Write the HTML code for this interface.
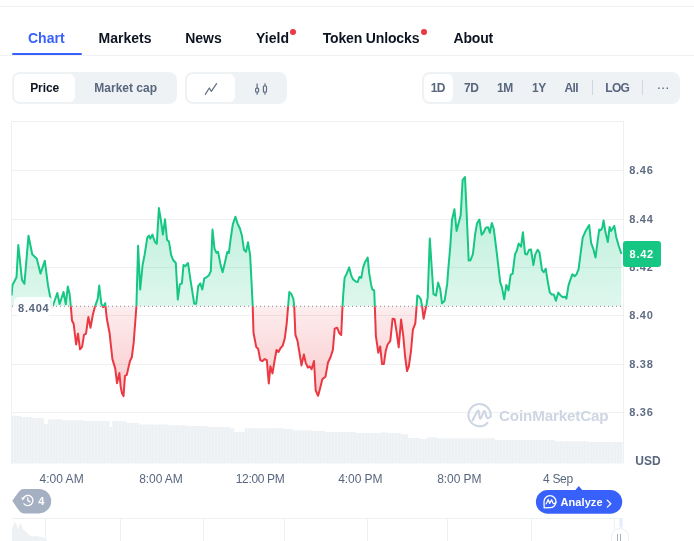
<!DOCTYPE html>
<html><head><meta charset="utf-8"><style>
*{box-sizing:border-box;margin:0;padding:0}
html,body{width:694px;height:541px;overflow:hidden;background:#fff}
body{position:relative;font-family:"Liberation Sans", Arial, sans-serif}
.abs{position:absolute}
.t{position:absolute;white-space:nowrap}
.hl{position:absolute;left:0;width:694px;height:1px;background:#eff2f5}
.box{position:absolute;background:#eff2f5;border-radius:8px}
.wb{position:absolute;background:#fff;border-radius:6px}
.dot{position:absolute;width:6px;height:6px;border-radius:50%;background:#ea3943}
</style></head><body>
<div class="hl" style="top:6px"></div>
<div class="hl" style="top:55px"></div>
<div class="abs" style="left:12px;top:53px;width:70px;height:2px;background:#3861fb;border-radius:1px"></div>
<div class="t" style="left:28px;top:29.65px;font-size:14px;line-height:17px;font-weight:700;color:#3861fb;letter-spacing:0px;">Chart</div>
<div class="t" style="left:98.6px;top:29.65px;font-size:14px;line-height:17px;font-weight:700;color:#0d1421;letter-spacing:0px;">Markets</div>
<div class="t" style="left:185.2px;top:29.65px;font-size:14px;line-height:17px;font-weight:700;color:#0d1421;letter-spacing:0px;">News</div>
<div class="t" style="left:256px;top:29.65px;font-size:14px;line-height:17px;font-weight:700;color:#0d1421;letter-spacing:0px;">Yield</div>
<div class="dot" style="left:290px;top:29px"></div>
<div class="t" style="left:322.7px;top:29.65px;font-size:14px;line-height:17px;font-weight:700;color:#0d1421;letter-spacing:-0.15px;">Token Unlocks</div>
<div class="dot" style="left:421px;top:29px"></div>
<div class="t" style="left:453.6px;top:29.65px;font-size:14px;line-height:17px;font-weight:700;color:#0d1421;letter-spacing:-0.2px;">About</div>

<div class="box" style="left:12px;top:72px;width:165px;height:32px"></div>
<div class="wb" style="left:14px;top:74px;width:61px;height:28px"></div>
<div class="t" style="left:30.2px;top:80.54px;font-size:12px;line-height:14px;font-weight:700;color:#0d1421;letter-spacing:-0.1px;">Price</div>
<div class="t" style="left:94.3px;top:80.54px;font-size:12px;line-height:14px;font-weight:700;color:#58667e;letter-spacing:0px;">Market cap</div>

<div class="box" style="left:185px;top:72px;width:102px;height:32px"></div>
<div class="wb" style="left:187px;top:74px;width:48px;height:28px"></div>
<svg class="abs" style="left:0;top:0" width="694" height="120">
 <path d="M205.3,94.3 L209.3,88 L211.3,91.3 L216.6,83.7" fill="none" stroke="#616e85" stroke-width="1.25" stroke-linecap="round" stroke-linejoin="round"/>
 <g fill="none" stroke="#616e85" stroke-width="1.2">
  <line x1="257.1" y1="83.5" x2="257.1" y2="94.7"/>
  <rect x="255.6" y="88.2" width="3" height="4" rx="1" fill="#eff2f5"/>
  <line x1="265" y1="83.2" x2="265" y2="94.7"/>
  <rect x="263.4" y="85.8" width="3.1" height="6.4" rx="1" fill="#eff2f5"/>
 </g>
</svg>

<div class="box" style="left:422px;top:72px;width:258px;height:32px"></div>
<div class="wb" style="left:424px;top:74px;width:29px;height:28px"></div>
<div class="t" style="left:430.8px;top:80.64px;font-size:12px;line-height:14px;font-weight:700;color:#58667e;letter-spacing:-0.6px;">1D</div>
<div class="t" style="left:464px;top:80.64px;font-size:12px;line-height:14px;font-weight:700;color:#58667e;letter-spacing:-0.3px;">7D</div>
<div class="t" style="left:497px;top:80.64px;font-size:12px;line-height:14px;font-weight:700;color:#58667e;letter-spacing:-0.3px;">1M</div>
<div class="t" style="left:532px;top:80.64px;font-size:12px;line-height:14px;font-weight:700;color:#58667e;letter-spacing:-0.5px;">1Y</div>
<div class="t" style="left:564.5px;top:80.64px;font-size:12px;line-height:14px;font-weight:700;color:#58667e;letter-spacing:-0.6px;">All</div>
<div class="abs" style="left:592px;top:80px;width:1px;height:15px;background:#cfd6e4"></div>
<div class="t" style="left:605.3px;top:80.64px;font-size:12px;line-height:14px;font-weight:700;color:#58667e;letter-spacing:-0.7px;">LOG</div>
<div class="abs" style="left:642px;top:80px;width:1px;height:15px;background:#cfd6e4"></div>
<div class="t" style="left:656.4px;top:78.95px;font-size:14px;line-height:17px;font-weight:400;color:#58667e;letter-spacing:-0.3px;">···</div>


<svg class="abs" width="694" height="541" viewBox="0 0 694 541" style="left:0;top:0">
 <defs>
  <linearGradient id="gg" x1="0" y1="175" x2="0" y2="306.3" gradientUnits="userSpaceOnUse">
   <stop offset="0" stop-color="#16c784" stop-opacity="0.32"/>
   <stop offset="1" stop-color="#16c784" stop-opacity="0.14"/>
  </linearGradient>
  <linearGradient id="rg" x1="0" y1="306.3" x2="0" y2="400" gradientUnits="userSpaceOnUse">
   <stop offset="0" stop-color="#ea3943" stop-opacity="0.09"/>
   <stop offset="1" stop-color="#ea3943" stop-opacity="0.28"/>
  </linearGradient>
  <clipPath id="top"><rect x="11.5" y="0" width="612" height="306.3"/></clipPath>
  <clipPath id="volc"><path d="M11,463.6 L11,415.8 L21,415.8 L21,417 L31.9,417 L31.9,418.1 L44.1,418.1 L44.1,424.1 L48,424.1 L48,419.3 L61.9,419.3 L61.9,420.2 L84.9,420.2 L84.9,421.1 L109.5,421.1 L109.5,426.9 L112.5,426.9 L112.5,421.1 L126.4,421.1 L126.4,423 L139,423 L139,424.4 L168,424.4 L168,425.2 L186.5,425.2 L186.5,426.1 L207.3,426.1 L207.3,427 L230.3,427 L230.3,428.2 L234.2,428.2 L234.2,432.1 L244.8,432.1 L244.8,428.2 L284.4,428.2 L284.4,429.1 L292.5,429.1 L292.5,430.3 L312.5,430.3 L312.5,431.1 L325,431.1 L325,432 L356.1,432 L356.1,433.1 L381.4,433.1 L381.4,432.2 L387.2,432.2 L387.2,433.1 L401,433.1 L401,434.3 L408,434.3 L408,438 L420.1,438 L420.1,439.1 L427,439.1 L427,437.3 L436.7,437.3 L436.7,438.3 L495,438.3 L495,440 L554.9,440 L554.9,441.2 L588.3,441.2 L588.3,442.1 L622.5,442.1 L622.5,463.6 Z"/></clipPath>
  <clipPath id="bot"><rect x="11.5" y="306.3" width="612" height="300"/></clipPath>
 </defs>
 <!-- chart frame -->
 <g stroke="#eff0f2" stroke-width="1" fill="none">
  <line x1="11" y1="121.5" x2="623.5" y2="121.5"/>
  <line x1="11.5" y1="121" x2="11.5" y2="464"/>
  <line x1="623.5" y1="121" x2="623.5" y2="464"/>
  <line x1="11" y1="170.5" x2="623" y2="170.5"/><line x1="11" y1="219.5" x2="623" y2="219.5"/><line x1="11" y1="267.5" x2="623" y2="267.5"/><line x1="11" y1="315.5" x2="623" y2="315.5"/><line x1="11" y1="364.5" x2="623" y2="364.5"/><line x1="11" y1="412.5" x2="623" y2="412.5"/>
 </g>
 <!-- volume -->
 <path d="M11,463.6 L11,415.8 L21,415.8 L21,417 L31.9,417 L31.9,418.1 L44.1,418.1 L44.1,424.1 L48,424.1 L48,419.3 L61.9,419.3 L61.9,420.2 L84.9,420.2 L84.9,421.1 L109.5,421.1 L109.5,426.9 L112.5,426.9 L112.5,421.1 L126.4,421.1 L126.4,423 L139,423 L139,424.4 L168,424.4 L168,425.2 L186.5,425.2 L186.5,426.1 L207.3,426.1 L207.3,427 L230.3,427 L230.3,428.2 L234.2,428.2 L234.2,432.1 L244.8,432.1 L244.8,428.2 L284.4,428.2 L284.4,429.1 L292.5,429.1 L292.5,430.3 L312.5,430.3 L312.5,431.1 L325,431.1 L325,432 L356.1,432 L356.1,433.1 L381.4,433.1 L381.4,432.2 L387.2,432.2 L387.2,433.1 L401,433.1 L401,434.3 L408,434.3 L408,438 L420.1,438 L420.1,439.1 L427,439.1 L427,437.3 L436.7,437.3 L436.7,438.3 L495,438.3 L495,440 L554.9,440 L554.9,441.2 L588.3,441.2 L588.3,442.1 L622.5,442.1 L622.5,463.6 Z" fill="#eef1f4"/>
 <g stroke="#f4f6f8" stroke-width="0.6" clip-path="url(#volc)"><line x1="13.5" y1="414" x2="13.5" y2="464" /><line x1="16.5" y1="414" x2="16.5" y2="464" /><line x1="19.5" y1="414" x2="19.5" y2="464" /><line x1="22.5" y1="414" x2="22.5" y2="464" /><line x1="25.5" y1="414" x2="25.5" y2="464" /><line x1="28.5" y1="414" x2="28.5" y2="464" /><line x1="31.5" y1="414" x2="31.5" y2="464" /><line x1="34.5" y1="414" x2="34.5" y2="464" /><line x1="37.5" y1="414" x2="37.5" y2="464" /><line x1="40.5" y1="414" x2="40.5" y2="464" /><line x1="43.5" y1="414" x2="43.5" y2="464" /><line x1="46.5" y1="414" x2="46.5" y2="464" /><line x1="49.5" y1="414" x2="49.5" y2="464" /><line x1="52.5" y1="414" x2="52.5" y2="464" /><line x1="55.5" y1="414" x2="55.5" y2="464" /><line x1="58.5" y1="414" x2="58.5" y2="464" /><line x1="61.5" y1="414" x2="61.5" y2="464" /><line x1="64.5" y1="414" x2="64.5" y2="464" /><line x1="67.5" y1="414" x2="67.5" y2="464" /><line x1="70.5" y1="414" x2="70.5" y2="464" /><line x1="73.5" y1="414" x2="73.5" y2="464" /><line x1="76.5" y1="414" x2="76.5" y2="464" /><line x1="79.5" y1="414" x2="79.5" y2="464" /><line x1="82.5" y1="414" x2="82.5" y2="464" /><line x1="85.5" y1="414" x2="85.5" y2="464" /><line x1="88.5" y1="414" x2="88.5" y2="464" /><line x1="91.5" y1="414" x2="91.5" y2="464" /><line x1="94.5" y1="414" x2="94.5" y2="464" /><line x1="97.5" y1="414" x2="97.5" y2="464" /><line x1="100.5" y1="414" x2="100.5" y2="464" /><line x1="103.5" y1="414" x2="103.5" y2="464" /><line x1="106.5" y1="414" x2="106.5" y2="464" /><line x1="109.5" y1="414" x2="109.5" y2="464" /><line x1="112.5" y1="414" x2="112.5" y2="464" /><line x1="115.5" y1="414" x2="115.5" y2="464" /><line x1="118.5" y1="414" x2="118.5" y2="464" /><line x1="121.5" y1="414" x2="121.5" y2="464" /><line x1="124.5" y1="414" x2="124.5" y2="464" /><line x1="127.5" y1="414" x2="127.5" y2="464" /><line x1="130.5" y1="414" x2="130.5" y2="464" /><line x1="133.5" y1="414" x2="133.5" y2="464" /><line x1="136.5" y1="414" x2="136.5" y2="464" /><line x1="139.5" y1="414" x2="139.5" y2="464" /><line x1="142.5" y1="414" x2="142.5" y2="464" /><line x1="145.5" y1="414" x2="145.5" y2="464" /><line x1="148.5" y1="414" x2="148.5" y2="464" /><line x1="151.5" y1="414" x2="151.5" y2="464" /><line x1="154.5" y1="414" x2="154.5" y2="464" /><line x1="157.5" y1="414" x2="157.5" y2="464" /><line x1="160.5" y1="414" x2="160.5" y2="464" /><line x1="163.5" y1="414" x2="163.5" y2="464" /><line x1="166.5" y1="414" x2="166.5" y2="464" /><line x1="169.5" y1="414" x2="169.5" y2="464" /><line x1="172.5" y1="414" x2="172.5" y2="464" /><line x1="175.5" y1="414" x2="175.5" y2="464" /><line x1="178.5" y1="414" x2="178.5" y2="464" /><line x1="181.5" y1="414" x2="181.5" y2="464" /><line x1="184.5" y1="414" x2="184.5" y2="464" /><line x1="187.5" y1="414" x2="187.5" y2="464" /><line x1="190.5" y1="414" x2="190.5" y2="464" /><line x1="193.5" y1="414" x2="193.5" y2="464" /><line x1="196.5" y1="414" x2="196.5" y2="464" /><line x1="199.5" y1="414" x2="199.5" y2="464" /><line x1="202.5" y1="414" x2="202.5" y2="464" /><line x1="205.5" y1="414" x2="205.5" y2="464" /><line x1="208.5" y1="414" x2="208.5" y2="464" /><line x1="211.5" y1="414" x2="211.5" y2="464" /><line x1="214.5" y1="414" x2="214.5" y2="464" /><line x1="217.5" y1="414" x2="217.5" y2="464" /><line x1="220.5" y1="414" x2="220.5" y2="464" /><line x1="223.5" y1="414" x2="223.5" y2="464" /><line x1="226.5" y1="414" x2="226.5" y2="464" /><line x1="229.5" y1="414" x2="229.5" y2="464" /><line x1="232.5" y1="414" x2="232.5" y2="464" /><line x1="235.5" y1="414" x2="235.5" y2="464" /><line x1="238.5" y1="414" x2="238.5" y2="464" /><line x1="241.5" y1="414" x2="241.5" y2="464" /><line x1="244.5" y1="414" x2="244.5" y2="464" /><line x1="247.5" y1="414" x2="247.5" y2="464" /><line x1="250.5" y1="414" x2="250.5" y2="464" /><line x1="253.5" y1="414" x2="253.5" y2="464" /><line x1="256.5" y1="414" x2="256.5" y2="464" /><line x1="259.5" y1="414" x2="259.5" y2="464" /><line x1="262.5" y1="414" x2="262.5" y2="464" /><line x1="265.5" y1="414" x2="265.5" y2="464" /><line x1="268.5" y1="414" x2="268.5" y2="464" /><line x1="271.5" y1="414" x2="271.5" y2="464" /><line x1="274.5" y1="414" x2="274.5" y2="464" /><line x1="277.5" y1="414" x2="277.5" y2="464" /><line x1="280.5" y1="414" x2="280.5" y2="464" /><line x1="283.5" y1="414" x2="283.5" y2="464" /><line x1="286.5" y1="414" x2="286.5" y2="464" /><line x1="289.5" y1="414" x2="289.5" y2="464" /><line x1="292.5" y1="414" x2="292.5" y2="464" /><line x1="295.5" y1="414" x2="295.5" y2="464" /><line x1="298.5" y1="414" x2="298.5" y2="464" /><line x1="301.5" y1="414" x2="301.5" y2="464" /><line x1="304.5" y1="414" x2="304.5" y2="464" /><line x1="307.5" y1="414" x2="307.5" y2="464" /><line x1="310.5" y1="414" x2="310.5" y2="464" /><line x1="313.5" y1="414" x2="313.5" y2="464" /><line x1="316.5" y1="414" x2="316.5" y2="464" /><line x1="319.5" y1="414" x2="319.5" y2="464" /><line x1="322.5" y1="414" x2="322.5" y2="464" /><line x1="325.5" y1="414" x2="325.5" y2="464" /><line x1="328.5" y1="414" x2="328.5" y2="464" /><line x1="331.5" y1="414" x2="331.5" y2="464" /><line x1="334.5" y1="414" x2="334.5" y2="464" /><line x1="337.5" y1="414" x2="337.5" y2="464" /><line x1="340.5" y1="414" x2="340.5" y2="464" /><line x1="343.5" y1="414" x2="343.5" y2="464" /><line x1="346.5" y1="414" x2="346.5" y2="464" /><line x1="349.5" y1="414" x2="349.5" y2="464" /><line x1="352.5" y1="414" x2="352.5" y2="464" /><line x1="355.5" y1="414" x2="355.5" y2="464" /><line x1="358.5" y1="414" x2="358.5" y2="464" /><line x1="361.5" y1="414" x2="361.5" y2="464" /><line x1="364.5" y1="414" x2="364.5" y2="464" /><line x1="367.5" y1="414" x2="367.5" y2="464" /><line x1="370.5" y1="414" x2="370.5" y2="464" /><line x1="373.5" y1="414" x2="373.5" y2="464" /><line x1="376.5" y1="414" x2="376.5" y2="464" /><line x1="379.5" y1="414" x2="379.5" y2="464" /><line x1="382.5" y1="414" x2="382.5" y2="464" /><line x1="385.5" y1="414" x2="385.5" y2="464" /><line x1="388.5" y1="414" x2="388.5" y2="464" /><line x1="391.5" y1="414" x2="391.5" y2="464" /><line x1="394.5" y1="414" x2="394.5" y2="464" /><line x1="397.5" y1="414" x2="397.5" y2="464" /><line x1="400.5" y1="414" x2="400.5" y2="464" /><line x1="403.5" y1="414" x2="403.5" y2="464" /><line x1="406.5" y1="414" x2="406.5" y2="464" /><line x1="409.5" y1="414" x2="409.5" y2="464" /><line x1="412.5" y1="414" x2="412.5" y2="464" /><line x1="415.5" y1="414" x2="415.5" y2="464" /><line x1="418.5" y1="414" x2="418.5" y2="464" /><line x1="421.5" y1="414" x2="421.5" y2="464" /><line x1="424.5" y1="414" x2="424.5" y2="464" /><line x1="427.5" y1="414" x2="427.5" y2="464" /><line x1="430.5" y1="414" x2="430.5" y2="464" /><line x1="433.5" y1="414" x2="433.5" y2="464" /><line x1="436.5" y1="414" x2="436.5" y2="464" /><line x1="439.5" y1="414" x2="439.5" y2="464" /><line x1="442.5" y1="414" x2="442.5" y2="464" /><line x1="445.5" y1="414" x2="445.5" y2="464" /><line x1="448.5" y1="414" x2="448.5" y2="464" /><line x1="451.5" y1="414" x2="451.5" y2="464" /><line x1="454.5" y1="414" x2="454.5" y2="464" /><line x1="457.5" y1="414" x2="457.5" y2="464" /><line x1="460.5" y1="414" x2="460.5" y2="464" /><line x1="463.5" y1="414" x2="463.5" y2="464" /><line x1="466.5" y1="414" x2="466.5" y2="464" /><line x1="469.5" y1="414" x2="469.5" y2="464" /><line x1="472.5" y1="414" x2="472.5" y2="464" /><line x1="475.5" y1="414" x2="475.5" y2="464" /><line x1="478.5" y1="414" x2="478.5" y2="464" /><line x1="481.5" y1="414" x2="481.5" y2="464" /><line x1="484.5" y1="414" x2="484.5" y2="464" /><line x1="487.5" y1="414" x2="487.5" y2="464" /><line x1="490.5" y1="414" x2="490.5" y2="464" /><line x1="493.5" y1="414" x2="493.5" y2="464" /><line x1="496.5" y1="414" x2="496.5" y2="464" /><line x1="499.5" y1="414" x2="499.5" y2="464" /><line x1="502.5" y1="414" x2="502.5" y2="464" /><line x1="505.5" y1="414" x2="505.5" y2="464" /><line x1="508.5" y1="414" x2="508.5" y2="464" /><line x1="511.5" y1="414" x2="511.5" y2="464" /><line x1="514.5" y1="414" x2="514.5" y2="464" /><line x1="517.5" y1="414" x2="517.5" y2="464" /><line x1="520.5" y1="414" x2="520.5" y2="464" /><line x1="523.5" y1="414" x2="523.5" y2="464" /><line x1="526.5" y1="414" x2="526.5" y2="464" /><line x1="529.5" y1="414" x2="529.5" y2="464" /><line x1="532.5" y1="414" x2="532.5" y2="464" /><line x1="535.5" y1="414" x2="535.5" y2="464" /><line x1="538.5" y1="414" x2="538.5" y2="464" /><line x1="541.5" y1="414" x2="541.5" y2="464" /><line x1="544.5" y1="414" x2="544.5" y2="464" /><line x1="547.5" y1="414" x2="547.5" y2="464" /><line x1="550.5" y1="414" x2="550.5" y2="464" /><line x1="553.5" y1="414" x2="553.5" y2="464" /><line x1="556.5" y1="414" x2="556.5" y2="464" /><line x1="559.5" y1="414" x2="559.5" y2="464" /><line x1="562.5" y1="414" x2="562.5" y2="464" /><line x1="565.5" y1="414" x2="565.5" y2="464" /><line x1="568.5" y1="414" x2="568.5" y2="464" /><line x1="571.5" y1="414" x2="571.5" y2="464" /><line x1="574.5" y1="414" x2="574.5" y2="464" /><line x1="577.5" y1="414" x2="577.5" y2="464" /><line x1="580.5" y1="414" x2="580.5" y2="464" /><line x1="583.5" y1="414" x2="583.5" y2="464" /><line x1="586.5" y1="414" x2="586.5" y2="464" /><line x1="589.5" y1="414" x2="589.5" y2="464" /><line x1="592.5" y1="414" x2="592.5" y2="464" /><line x1="595.5" y1="414" x2="595.5" y2="464" /><line x1="598.5" y1="414" x2="598.5" y2="464" /><line x1="601.5" y1="414" x2="601.5" y2="464" /><line x1="604.5" y1="414" x2="604.5" y2="464" /><line x1="607.5" y1="414" x2="607.5" y2="464" /><line x1="610.5" y1="414" x2="610.5" y2="464" /><line x1="613.5" y1="414" x2="613.5" y2="464" /><line x1="616.5" y1="414" x2="616.5" y2="464" /><line x1="619.5" y1="414" x2="619.5" y2="464" /></g>
 <!-- watermark -->
 <g fill="none" stroke="#cfd6e3" stroke-width="2.1" stroke-linecap="round" stroke-linejoin="round">
  <path d="M487.5,422.9 A11.1,11.1 0 1 1 490.6,416.4"/>
  <path d="M472.6,420.3 L477.3,411.2 Q478.3,409.6 478.9,411.6 L479.6,417.6 Q480.2,419.6 481.2,417.6 L483.6,411.8 Q484.4,410.4 485.1,412 L486.6,417.2 Q487.6,419.6 490.6,416.4"/>
 </g>
 <text x="499" y="420.5" font-family='"Liberation Sans", Arial, sans-serif' font-weight="700" font-size="15.2" fill="#cfd6e3" letter-spacing="-0.15">CoinMarketCap</text>
 <!-- fills -->
 <path d="M11.6,295.5 L12.4,285.2 L16.5,277.3 L18.3,245.0 L22.0,280.0 L24.4,283.8 L28.5,235.7 L32.2,254.2 L36.8,258.8 L40.5,273.6 L44.8,260.7 L47.9,284.7 L50.5,298.5 L51.6,307.5 L53.2,305.0 L57.3,293.0 L59.6,304.0 L63.5,292.0 L65.8,304.3 L67.8,286.5 L69.6,294.0 L70.8,306.0 L72.0,320.5 L73.7,324.0 L76.1,344.5 L78.0,333.7 L80.0,349.3 L82.1,346.9 L84.0,334.9 L86.0,333.7 L88.4,316.9 L90.5,327.7 L92.9,314.5 L94.8,307.2 L97.7,298.8 L99.2,285.6 L101.3,303.6 L103.2,307.2 L105.2,303.2 L106.8,318.5 L109.6,333.3 L112.4,359.1 L115.2,368.4 L117.0,383.2 L119.4,373.0 L120.7,386.9 L122.0,393.3 L123.5,396.1 L125.0,375.8 L126.8,374.9 L128.7,366.5 L130.0,361.0 L131.8,357.3 L133.7,342.5 L135.5,318.5 L136.4,306.5 L138.1,245.8 L140.2,289.5 L142.6,265.0 L144.6,254.9 L147.3,237.6 L148.9,235.6 L150.3,238.6 L152.4,234.6 L154.8,241.7 L156.8,243.7 L158.9,208.1 L160.9,220.3 L162.9,234.6 L165.0,219.3 L167.0,239.7 L169.0,241.7 L171.1,254.9 L173.1,260.0 L175.8,263.0 L177.8,299.6 L179.8,284.4 L181.9,283.4 L183.5,265.0 L185.3,266.1 L188.0,263.0 L190.7,281.3 L194.2,303.7 L196.2,303.7 L198.2,286.4 L200.3,283.4 L202.3,289.5 L204.3,278.3 L206.4,277.3 L209.0,275.2 L210.8,271.2 L212.5,229.5 L214.5,248.8 L216.5,252.9 L218.1,251.9 L220.6,265.1 L222.6,272.2 L225.3,261.0 L227.3,251.9 L228.9,252.9 L230.7,238.6 L232.8,224.4 L235.4,216.7 L237.5,223.4 L239.9,228.5 L241.9,235.6 L244.0,249.8 L246.0,251.9 L248.0,242.3 L250.1,254.9 L251.5,281.3 L252.7,305.7 L253.5,332.7 L256.2,346.9 L258.2,349.0 L260.3,360.1 L262.3,361.2 L264.7,359.1 L266.8,360.1 L268.8,383.5 L270.4,366.3 L272.5,373.4 L274.5,361.2 L276.5,350.0 L278.5,352.0 L280.6,348.0 L282.6,345.9 L284.7,338.8 L286.7,323.5 L288.1,306.3 L289.3,292.0 L291.4,294.1 L293.4,299.1 L294.2,306.3 L295.4,334.7 L297.5,340.8 L299.5,353.0 L301.5,365.4 L303.9,354.5 L305.7,362.8 L307.9,367.5 L309.8,366.5 L311.6,369.3 L314.0,361.0 L315.7,390.6 L318.1,395.7 L320.0,388.7 L322.4,379.1 L325.5,376.7 L327.9,362.8 L330.5,357.3 L332.9,349.9 L334.7,328.7 L337.1,327.7 L339.4,333.3 L341.2,335.1 L342.5,306.5 L343.3,293.6 L344.6,277.9 L346.5,274.2 L349.2,267.4 L351.1,275.1 L352.9,279.2 L355.7,281.6 L357.6,282.1 L359.4,277.0 L361.3,277.9 L363.1,267.7 L365.0,262.2 L367.7,257.6 L369.2,273.3 L371.1,284.4 L372.3,289.5 L374.2,290.3 L374.8,305.6 L375.9,336.2 L377.0,343.6 L378.3,352.8 L380.2,346.4 L382.0,363.9 L383.9,363.9 L385.7,351.0 L387.6,344.5 L390.3,340.8 L392.6,318.7 L394.6,319.2 L396.8,333.4 L398.7,347.3 L401.1,319.6 L403.3,336.2 L405.1,356.5 L407.0,371.0 L408.8,366.7 L411.0,351.0 L412.9,329.7 L415.3,323.3 L416.6,306.3 L417.3,295.5 L419.0,296.5 L420.8,299.2 L422.1,306.3 L423.6,318.7 L425.1,311.3 L426.2,306.3 L427.7,297.4 L429.8,238.6 L431.6,265.8 L433.5,294.2 L436.0,295.5 L438.1,282.6 L440.2,289.0 L442.0,303.3 L444.6,300.7 L447.2,283.9 L448.3,268.9 L450.2,247.6 L452.0,219.9 L454.4,209.2 L456.6,231.0 L458.5,223.6 L460.7,215.3 L462.6,180.2 L465.0,177.0 L466.8,216.2 L468.7,260.6 L470.5,260.2 L472.9,254.1 L475.1,234.7 L477.0,223.6 L479.4,219.5 L481.6,234.7 L483.4,232.8 L485.8,227.7 L488.1,227.3 L489.9,232.8 L491.8,222.9 L493.7,228.5 L496.5,250.7 L500.2,282.1 L502.0,287.6 L504.2,299.3 L506.3,284.9 L508.5,290.4 L510.7,274.7 L512.6,273.8 L515.0,254.4 L516.8,250.7 L518.7,243.6 L521.1,246.6 L522.9,232.2 L525.1,254.0 L527.0,254.4 L529.2,249.7 L531.0,249.4 L533.4,265.1 L535.3,254.4 L537.7,249.7 L539.5,252.5 L542.0,270.2 L543.7,272.2 L545.7,268.7 L547.7,281.3 L549.8,292.5 L551.8,294.6 L553.8,294.6 L555.9,300.7 L558.3,292.5 L560.3,295.2 L562.8,297.2 L564.8,296.6 L566.4,298.6 L568.5,285.4 L570.5,279.3 L572.5,274.2 L574.6,276.2 L576.6,274.2 L578.6,269.1 L580.7,252.9 L582.7,237.6 L585.2,231.8 L587.4,228.1 L589.2,225.1 L591.1,242.9 L593.3,248.8 L595.5,257.6 L597.4,242.9 L599.2,229.6 L600.7,230.3 L602.2,228.1 L603.6,220.4 L605.4,231.8 L607.8,242.1 L609.6,226.9 L611.0,231.0 L612.5,228.8 L614.3,225.9 L616.2,236.9 L618.7,245.8 L621.4,253.9 L621.4,306.3 L11.6,306.3 Z" fill="url(#gg)" clip-path="url(#top)"/>
 <path d="M11.6,295.5 L12.4,285.2 L16.5,277.3 L18.3,245.0 L22.0,280.0 L24.4,283.8 L28.5,235.7 L32.2,254.2 L36.8,258.8 L40.5,273.6 L44.8,260.7 L47.9,284.7 L50.5,298.5 L51.6,307.5 L53.2,305.0 L57.3,293.0 L59.6,304.0 L63.5,292.0 L65.8,304.3 L67.8,286.5 L69.6,294.0 L70.8,306.0 L72.0,320.5 L73.7,324.0 L76.1,344.5 L78.0,333.7 L80.0,349.3 L82.1,346.9 L84.0,334.9 L86.0,333.7 L88.4,316.9 L90.5,327.7 L92.9,314.5 L94.8,307.2 L97.7,298.8 L99.2,285.6 L101.3,303.6 L103.2,307.2 L105.2,303.2 L106.8,318.5 L109.6,333.3 L112.4,359.1 L115.2,368.4 L117.0,383.2 L119.4,373.0 L120.7,386.9 L122.0,393.3 L123.5,396.1 L125.0,375.8 L126.8,374.9 L128.7,366.5 L130.0,361.0 L131.8,357.3 L133.7,342.5 L135.5,318.5 L136.4,306.5 L138.1,245.8 L140.2,289.5 L142.6,265.0 L144.6,254.9 L147.3,237.6 L148.9,235.6 L150.3,238.6 L152.4,234.6 L154.8,241.7 L156.8,243.7 L158.9,208.1 L160.9,220.3 L162.9,234.6 L165.0,219.3 L167.0,239.7 L169.0,241.7 L171.1,254.9 L173.1,260.0 L175.8,263.0 L177.8,299.6 L179.8,284.4 L181.9,283.4 L183.5,265.0 L185.3,266.1 L188.0,263.0 L190.7,281.3 L194.2,303.7 L196.2,303.7 L198.2,286.4 L200.3,283.4 L202.3,289.5 L204.3,278.3 L206.4,277.3 L209.0,275.2 L210.8,271.2 L212.5,229.5 L214.5,248.8 L216.5,252.9 L218.1,251.9 L220.6,265.1 L222.6,272.2 L225.3,261.0 L227.3,251.9 L228.9,252.9 L230.7,238.6 L232.8,224.4 L235.4,216.7 L237.5,223.4 L239.9,228.5 L241.9,235.6 L244.0,249.8 L246.0,251.9 L248.0,242.3 L250.1,254.9 L251.5,281.3 L252.7,305.7 L253.5,332.7 L256.2,346.9 L258.2,349.0 L260.3,360.1 L262.3,361.2 L264.7,359.1 L266.8,360.1 L268.8,383.5 L270.4,366.3 L272.5,373.4 L274.5,361.2 L276.5,350.0 L278.5,352.0 L280.6,348.0 L282.6,345.9 L284.7,338.8 L286.7,323.5 L288.1,306.3 L289.3,292.0 L291.4,294.1 L293.4,299.1 L294.2,306.3 L295.4,334.7 L297.5,340.8 L299.5,353.0 L301.5,365.4 L303.9,354.5 L305.7,362.8 L307.9,367.5 L309.8,366.5 L311.6,369.3 L314.0,361.0 L315.7,390.6 L318.1,395.7 L320.0,388.7 L322.4,379.1 L325.5,376.7 L327.9,362.8 L330.5,357.3 L332.9,349.9 L334.7,328.7 L337.1,327.7 L339.4,333.3 L341.2,335.1 L342.5,306.5 L343.3,293.6 L344.6,277.9 L346.5,274.2 L349.2,267.4 L351.1,275.1 L352.9,279.2 L355.7,281.6 L357.6,282.1 L359.4,277.0 L361.3,277.9 L363.1,267.7 L365.0,262.2 L367.7,257.6 L369.2,273.3 L371.1,284.4 L372.3,289.5 L374.2,290.3 L374.8,305.6 L375.9,336.2 L377.0,343.6 L378.3,352.8 L380.2,346.4 L382.0,363.9 L383.9,363.9 L385.7,351.0 L387.6,344.5 L390.3,340.8 L392.6,318.7 L394.6,319.2 L396.8,333.4 L398.7,347.3 L401.1,319.6 L403.3,336.2 L405.1,356.5 L407.0,371.0 L408.8,366.7 L411.0,351.0 L412.9,329.7 L415.3,323.3 L416.6,306.3 L417.3,295.5 L419.0,296.5 L420.8,299.2 L422.1,306.3 L423.6,318.7 L425.1,311.3 L426.2,306.3 L427.7,297.4 L429.8,238.6 L431.6,265.8 L433.5,294.2 L436.0,295.5 L438.1,282.6 L440.2,289.0 L442.0,303.3 L444.6,300.7 L447.2,283.9 L448.3,268.9 L450.2,247.6 L452.0,219.9 L454.4,209.2 L456.6,231.0 L458.5,223.6 L460.7,215.3 L462.6,180.2 L465.0,177.0 L466.8,216.2 L468.7,260.6 L470.5,260.2 L472.9,254.1 L475.1,234.7 L477.0,223.6 L479.4,219.5 L481.6,234.7 L483.4,232.8 L485.8,227.7 L488.1,227.3 L489.9,232.8 L491.8,222.9 L493.7,228.5 L496.5,250.7 L500.2,282.1 L502.0,287.6 L504.2,299.3 L506.3,284.9 L508.5,290.4 L510.7,274.7 L512.6,273.8 L515.0,254.4 L516.8,250.7 L518.7,243.6 L521.1,246.6 L522.9,232.2 L525.1,254.0 L527.0,254.4 L529.2,249.7 L531.0,249.4 L533.4,265.1 L535.3,254.4 L537.7,249.7 L539.5,252.5 L542.0,270.2 L543.7,272.2 L545.7,268.7 L547.7,281.3 L549.8,292.5 L551.8,294.6 L553.8,294.6 L555.9,300.7 L558.3,292.5 L560.3,295.2 L562.8,297.2 L564.8,296.6 L566.4,298.6 L568.5,285.4 L570.5,279.3 L572.5,274.2 L574.6,276.2 L576.6,274.2 L578.6,269.1 L580.7,252.9 L582.7,237.6 L585.2,231.8 L587.4,228.1 L589.2,225.1 L591.1,242.9 L593.3,248.8 L595.5,257.6 L597.4,242.9 L599.2,229.6 L600.7,230.3 L602.2,228.1 L603.6,220.4 L605.4,231.8 L607.8,242.1 L609.6,226.9 L611.0,231.0 L612.5,228.8 L614.3,225.9 L616.2,236.9 L618.7,245.8 L621.4,253.9 L621.4,306.3 L11.6,306.3 Z" fill="url(#rg)" clip-path="url(#bot)"/>
 <!-- baseline dotted -->
 <line x1="12" y1="306.3" x2="622" y2="306.3" stroke="#7c7f86" stroke-width="1" stroke-dasharray="1 3" opacity="0.9"/>
 <!-- line -->
 <path d="M11.6,295.5 L12.4,285.2 L16.5,277.3 L18.3,245.0 L22.0,280.0 L24.4,283.8 L28.5,235.7 L32.2,254.2 L36.8,258.8 L40.5,273.6 L44.8,260.7 L47.9,284.7 L50.5,298.5 L51.6,307.5 L53.2,305.0 L57.3,293.0 L59.6,304.0 L63.5,292.0 L65.8,304.3 L67.8,286.5 L69.6,294.0 L70.8,306.0 L72.0,320.5 L73.7,324.0 L76.1,344.5 L78.0,333.7 L80.0,349.3 L82.1,346.9 L84.0,334.9 L86.0,333.7 L88.4,316.9 L90.5,327.7 L92.9,314.5 L94.8,307.2 L97.7,298.8 L99.2,285.6 L101.3,303.6 L103.2,307.2 L105.2,303.2 L106.8,318.5 L109.6,333.3 L112.4,359.1 L115.2,368.4 L117.0,383.2 L119.4,373.0 L120.7,386.9 L122.0,393.3 L123.5,396.1 L125.0,375.8 L126.8,374.9 L128.7,366.5 L130.0,361.0 L131.8,357.3 L133.7,342.5 L135.5,318.5 L136.4,306.5 L138.1,245.8 L140.2,289.5 L142.6,265.0 L144.6,254.9 L147.3,237.6 L148.9,235.6 L150.3,238.6 L152.4,234.6 L154.8,241.7 L156.8,243.7 L158.9,208.1 L160.9,220.3 L162.9,234.6 L165.0,219.3 L167.0,239.7 L169.0,241.7 L171.1,254.9 L173.1,260.0 L175.8,263.0 L177.8,299.6 L179.8,284.4 L181.9,283.4 L183.5,265.0 L185.3,266.1 L188.0,263.0 L190.7,281.3 L194.2,303.7 L196.2,303.7 L198.2,286.4 L200.3,283.4 L202.3,289.5 L204.3,278.3 L206.4,277.3 L209.0,275.2 L210.8,271.2 L212.5,229.5 L214.5,248.8 L216.5,252.9 L218.1,251.9 L220.6,265.1 L222.6,272.2 L225.3,261.0 L227.3,251.9 L228.9,252.9 L230.7,238.6 L232.8,224.4 L235.4,216.7 L237.5,223.4 L239.9,228.5 L241.9,235.6 L244.0,249.8 L246.0,251.9 L248.0,242.3 L250.1,254.9 L251.5,281.3 L252.7,305.7 L253.5,332.7 L256.2,346.9 L258.2,349.0 L260.3,360.1 L262.3,361.2 L264.7,359.1 L266.8,360.1 L268.8,383.5 L270.4,366.3 L272.5,373.4 L274.5,361.2 L276.5,350.0 L278.5,352.0 L280.6,348.0 L282.6,345.9 L284.7,338.8 L286.7,323.5 L288.1,306.3 L289.3,292.0 L291.4,294.1 L293.4,299.1 L294.2,306.3 L295.4,334.7 L297.5,340.8 L299.5,353.0 L301.5,365.4 L303.9,354.5 L305.7,362.8 L307.9,367.5 L309.8,366.5 L311.6,369.3 L314.0,361.0 L315.7,390.6 L318.1,395.7 L320.0,388.7 L322.4,379.1 L325.5,376.7 L327.9,362.8 L330.5,357.3 L332.9,349.9 L334.7,328.7 L337.1,327.7 L339.4,333.3 L341.2,335.1 L342.5,306.5 L343.3,293.6 L344.6,277.9 L346.5,274.2 L349.2,267.4 L351.1,275.1 L352.9,279.2 L355.7,281.6 L357.6,282.1 L359.4,277.0 L361.3,277.9 L363.1,267.7 L365.0,262.2 L367.7,257.6 L369.2,273.3 L371.1,284.4 L372.3,289.5 L374.2,290.3 L374.8,305.6 L375.9,336.2 L377.0,343.6 L378.3,352.8 L380.2,346.4 L382.0,363.9 L383.9,363.9 L385.7,351.0 L387.6,344.5 L390.3,340.8 L392.6,318.7 L394.6,319.2 L396.8,333.4 L398.7,347.3 L401.1,319.6 L403.3,336.2 L405.1,356.5 L407.0,371.0 L408.8,366.7 L411.0,351.0 L412.9,329.7 L415.3,323.3 L416.6,306.3 L417.3,295.5 L419.0,296.5 L420.8,299.2 L422.1,306.3 L423.6,318.7 L425.1,311.3 L426.2,306.3 L427.7,297.4 L429.8,238.6 L431.6,265.8 L433.5,294.2 L436.0,295.5 L438.1,282.6 L440.2,289.0 L442.0,303.3 L444.6,300.7 L447.2,283.9 L448.3,268.9 L450.2,247.6 L452.0,219.9 L454.4,209.2 L456.6,231.0 L458.5,223.6 L460.7,215.3 L462.6,180.2 L465.0,177.0 L466.8,216.2 L468.7,260.6 L470.5,260.2 L472.9,254.1 L475.1,234.7 L477.0,223.6 L479.4,219.5 L481.6,234.7 L483.4,232.8 L485.8,227.7 L488.1,227.3 L489.9,232.8 L491.8,222.9 L493.7,228.5 L496.5,250.7 L500.2,282.1 L502.0,287.6 L504.2,299.3 L506.3,284.9 L508.5,290.4 L510.7,274.7 L512.6,273.8 L515.0,254.4 L516.8,250.7 L518.7,243.6 L521.1,246.6 L522.9,232.2 L525.1,254.0 L527.0,254.4 L529.2,249.7 L531.0,249.4 L533.4,265.1 L535.3,254.4 L537.7,249.7 L539.5,252.5 L542.0,270.2 L543.7,272.2 L545.7,268.7 L547.7,281.3 L549.8,292.5 L551.8,294.6 L553.8,294.6 L555.9,300.7 L558.3,292.5 L560.3,295.2 L562.8,297.2 L564.8,296.6 L566.4,298.6 L568.5,285.4 L570.5,279.3 L572.5,274.2 L574.6,276.2 L576.6,274.2 L578.6,269.1 L580.7,252.9 L582.7,237.6 L585.2,231.8 L587.4,228.1 L589.2,225.1 L591.1,242.9 L593.3,248.8 L595.5,257.6 L597.4,242.9 L599.2,229.6 L600.7,230.3 L602.2,228.1 L603.6,220.4 L605.4,231.8 L607.8,242.1 L609.6,226.9 L611.0,231.0 L612.5,228.8 L614.3,225.9 L616.2,236.9 L618.7,245.8 L621.4,253.9" fill="none" stroke="#16c784" stroke-width="2" stroke-linejoin="round" clip-path="url(#top)"/>
 <path d="M11.6,295.5 L12.4,285.2 L16.5,277.3 L18.3,245.0 L22.0,280.0 L24.4,283.8 L28.5,235.7 L32.2,254.2 L36.8,258.8 L40.5,273.6 L44.8,260.7 L47.9,284.7 L50.5,298.5 L51.6,307.5 L53.2,305.0 L57.3,293.0 L59.6,304.0 L63.5,292.0 L65.8,304.3 L67.8,286.5 L69.6,294.0 L70.8,306.0 L72.0,320.5 L73.7,324.0 L76.1,344.5 L78.0,333.7 L80.0,349.3 L82.1,346.9 L84.0,334.9 L86.0,333.7 L88.4,316.9 L90.5,327.7 L92.9,314.5 L94.8,307.2 L97.7,298.8 L99.2,285.6 L101.3,303.6 L103.2,307.2 L105.2,303.2 L106.8,318.5 L109.6,333.3 L112.4,359.1 L115.2,368.4 L117.0,383.2 L119.4,373.0 L120.7,386.9 L122.0,393.3 L123.5,396.1 L125.0,375.8 L126.8,374.9 L128.7,366.5 L130.0,361.0 L131.8,357.3 L133.7,342.5 L135.5,318.5 L136.4,306.5 L138.1,245.8 L140.2,289.5 L142.6,265.0 L144.6,254.9 L147.3,237.6 L148.9,235.6 L150.3,238.6 L152.4,234.6 L154.8,241.7 L156.8,243.7 L158.9,208.1 L160.9,220.3 L162.9,234.6 L165.0,219.3 L167.0,239.7 L169.0,241.7 L171.1,254.9 L173.1,260.0 L175.8,263.0 L177.8,299.6 L179.8,284.4 L181.9,283.4 L183.5,265.0 L185.3,266.1 L188.0,263.0 L190.7,281.3 L194.2,303.7 L196.2,303.7 L198.2,286.4 L200.3,283.4 L202.3,289.5 L204.3,278.3 L206.4,277.3 L209.0,275.2 L210.8,271.2 L212.5,229.5 L214.5,248.8 L216.5,252.9 L218.1,251.9 L220.6,265.1 L222.6,272.2 L225.3,261.0 L227.3,251.9 L228.9,252.9 L230.7,238.6 L232.8,224.4 L235.4,216.7 L237.5,223.4 L239.9,228.5 L241.9,235.6 L244.0,249.8 L246.0,251.9 L248.0,242.3 L250.1,254.9 L251.5,281.3 L252.7,305.7 L253.5,332.7 L256.2,346.9 L258.2,349.0 L260.3,360.1 L262.3,361.2 L264.7,359.1 L266.8,360.1 L268.8,383.5 L270.4,366.3 L272.5,373.4 L274.5,361.2 L276.5,350.0 L278.5,352.0 L280.6,348.0 L282.6,345.9 L284.7,338.8 L286.7,323.5 L288.1,306.3 L289.3,292.0 L291.4,294.1 L293.4,299.1 L294.2,306.3 L295.4,334.7 L297.5,340.8 L299.5,353.0 L301.5,365.4 L303.9,354.5 L305.7,362.8 L307.9,367.5 L309.8,366.5 L311.6,369.3 L314.0,361.0 L315.7,390.6 L318.1,395.7 L320.0,388.7 L322.4,379.1 L325.5,376.7 L327.9,362.8 L330.5,357.3 L332.9,349.9 L334.7,328.7 L337.1,327.7 L339.4,333.3 L341.2,335.1 L342.5,306.5 L343.3,293.6 L344.6,277.9 L346.5,274.2 L349.2,267.4 L351.1,275.1 L352.9,279.2 L355.7,281.6 L357.6,282.1 L359.4,277.0 L361.3,277.9 L363.1,267.7 L365.0,262.2 L367.7,257.6 L369.2,273.3 L371.1,284.4 L372.3,289.5 L374.2,290.3 L374.8,305.6 L375.9,336.2 L377.0,343.6 L378.3,352.8 L380.2,346.4 L382.0,363.9 L383.9,363.9 L385.7,351.0 L387.6,344.5 L390.3,340.8 L392.6,318.7 L394.6,319.2 L396.8,333.4 L398.7,347.3 L401.1,319.6 L403.3,336.2 L405.1,356.5 L407.0,371.0 L408.8,366.7 L411.0,351.0 L412.9,329.7 L415.3,323.3 L416.6,306.3 L417.3,295.5 L419.0,296.5 L420.8,299.2 L422.1,306.3 L423.6,318.7 L425.1,311.3 L426.2,306.3 L427.7,297.4 L429.8,238.6 L431.6,265.8 L433.5,294.2 L436.0,295.5 L438.1,282.6 L440.2,289.0 L442.0,303.3 L444.6,300.7 L447.2,283.9 L448.3,268.9 L450.2,247.6 L452.0,219.9 L454.4,209.2 L456.6,231.0 L458.5,223.6 L460.7,215.3 L462.6,180.2 L465.0,177.0 L466.8,216.2 L468.7,260.6 L470.5,260.2 L472.9,254.1 L475.1,234.7 L477.0,223.6 L479.4,219.5 L481.6,234.7 L483.4,232.8 L485.8,227.7 L488.1,227.3 L489.9,232.8 L491.8,222.9 L493.7,228.5 L496.5,250.7 L500.2,282.1 L502.0,287.6 L504.2,299.3 L506.3,284.9 L508.5,290.4 L510.7,274.7 L512.6,273.8 L515.0,254.4 L516.8,250.7 L518.7,243.6 L521.1,246.6 L522.9,232.2 L525.1,254.0 L527.0,254.4 L529.2,249.7 L531.0,249.4 L533.4,265.1 L535.3,254.4 L537.7,249.7 L539.5,252.5 L542.0,270.2 L543.7,272.2 L545.7,268.7 L547.7,281.3 L549.8,292.5 L551.8,294.6 L553.8,294.6 L555.9,300.7 L558.3,292.5 L560.3,295.2 L562.8,297.2 L564.8,296.6 L566.4,298.6 L568.5,285.4 L570.5,279.3 L572.5,274.2 L574.6,276.2 L576.6,274.2 L578.6,269.1 L580.7,252.9 L582.7,237.6 L585.2,231.8 L587.4,228.1 L589.2,225.1 L591.1,242.9 L593.3,248.8 L595.5,257.6 L597.4,242.9 L599.2,229.6 L600.7,230.3 L602.2,228.1 L603.6,220.4 L605.4,231.8 L607.8,242.1 L609.6,226.9 L611.0,231.0 L612.5,228.8 L614.3,225.9 L616.2,236.9 L618.7,245.8 L621.4,253.9" fill="none" stroke="#ea3943" stroke-width="2" stroke-linejoin="round" clip-path="url(#bot)"/>
 <!-- navigator -->
 <g stroke="#eff0f2" stroke-width="1" shape-rendering="crispEdges">
  <line x1="12" y1="518.5" x2="623" y2="518.5"/>
  <line x1="45.5" y1="518" x2="45.5" y2="541"/><line x1="120.5" y1="518" x2="120.5" y2="541"/><line x1="203.5" y1="518" x2="203.5" y2="541"/><line x1="284.5" y1="518" x2="284.5" y2="541"/><line x1="367.5" y1="518" x2="367.5" y2="541"/><line x1="447.5" y1="518" x2="447.5" y2="541"/><line x1="531.5" y1="518" x2="531.5" y2="541"/><line x1="614.5" y1="518" x2="614.5" y2="541"/>
 </g>
 <path d="M12,541 L12,529.3 L14.3,522.2 L16,523 L18,529.3 L20.1,523.2 L21.5,524.5 L23.2,529.3 L26.2,531.9 L28.8,534.9 L32.7,536.6 L35.3,536 L41.3,537.1 L45.2,537.9 L47.4,541 Z" fill="#eef1f4"/>
 <rect x="619.5" y="518.5" width="3" height="9" fill="#e6ebff"/>
</svg>

<div class="abs" style="left:13.5px;top:297.3px;width:39px;height:19px;background:rgba(255,255,255,0.86);border-radius:5px"></div>
<div class="t" style="left:18px;top:302.09px;font-size:11px;line-height:13px;font-weight:700;color:#58667e;letter-spacing:0.8px;">8.404</div>

<div class="t" style="left:629.2px;top:163.79px;font-size:11px;line-height:13px;font-weight:700;color:#5f6c83;letter-spacing:0.75px;">8.46</div><div class="t" style="left:629.2px;top:212.79px;font-size:11px;line-height:13px;font-weight:700;color:#5f6c83;letter-spacing:0.75px;">8.44</div><div class="t" style="left:629.2px;top:260.79px;font-size:11px;line-height:13px;font-weight:700;color:#5f6c83;letter-spacing:0.75px;">8.42</div><div class="t" style="left:629.2px;top:308.79px;font-size:11px;line-height:13px;font-weight:700;color:#5f6c83;letter-spacing:0.75px;">8.40</div><div class="t" style="left:629.2px;top:357.79px;font-size:11px;line-height:13px;font-weight:700;color:#5f6c83;letter-spacing:0.75px;">8.38</div><div class="t" style="left:629.2px;top:405.79px;font-size:11px;line-height:13px;font-weight:700;color:#5f6c83;letter-spacing:0.75px;">8.36</div>
<div class="abs" style="left:623px;top:241px;width:38px;height:26px;background:#16c784;border-radius:3px"></div>
<div class="t" style="left:629.6px;top:247.99px;font-size:11px;line-height:13px;font-weight:700;color:#fff;letter-spacing:0.7px;">8.42</div>
<div class="t" style="left:635.3px;top:453.64px;font-size:12px;line-height:14px;font-weight:700;color:#58667e;letter-spacing:0px;">USD</div>

<div class="t" style="left:39.6px;top:472.24px;font-size:12px;line-height:14px;font-weight:400;color:#58667e;letter-spacing:0px;">4:00 AM</div>
<div class="t" style="left:139.3px;top:472.24px;font-size:12px;line-height:14px;font-weight:400;color:#58667e;letter-spacing:-0.1px;">8:00 AM</div>
<div class="t" style="left:235.8px;top:472.24px;font-size:12px;line-height:14px;font-weight:400;color:#58667e;letter-spacing:-0.35px;">12:00 PM</div>
<div class="t" style="left:338.3px;top:472.24px;font-size:12px;line-height:14px;font-weight:400;color:#58667e;letter-spacing:-0.1px;">4:00 PM</div>
<div class="t" style="left:437.3px;top:472.24px;font-size:12px;line-height:14px;font-weight:400;color:#58667e;letter-spacing:-0.1px;">8:00 PM</div>
<div class="t" style="left:543px;top:472.24px;font-size:12px;line-height:14px;font-weight:400;color:#58667e;letter-spacing:-0.3px;">4 Sep</div>

<!-- history badge -->
<svg class="abs" style="left:0;top:480px" width="80" height="40">
 <path d="M24,9 L39,9 A12.2,12.2 0 0 1 39,33.4 L24,33.4 C21,33.4 19.5,31 17.5,28.5 L12.3,20.7 L17.5,13.6 C19.5,11 21,9 24,9 Z" fill="#a6b0c3"/>
 <g fill="none" stroke="#fff" stroke-width="1.3" stroke-linecap="round" stroke-linejoin="round">
  <path d="M23.5,17.9 A5.1,5.1 0 1 1 24,23.8"/>
  <path d="M27.8,17.8 L27.8,20.6 L30.1,21.8"/>
 </g>
 <g fill="#fff"><path d="M21.3,17.6 L25,17.8 L22.6,20.6 Z"/>
 </g>
</svg>
<div class="t" style="left:38.2px;top:494.99px;font-size:11px;line-height:13px;font-weight:700;color:#fff;letter-spacing:0px;">4</div>

<!-- analyze -->
<svg class="abs" style="left:530px;top:480px" width="100" height="40">
 <path d="M17.9,10.2 L48.9,6.1 Z" fill="none"/>
 <rect x="5.9" y="10" width="86.3" height="23.8" rx="11.9" fill="#3861fb"/>
 <path d="M45,10.5 L48.8,6 L52.6,10.5 Z" fill="#3861fb"/>
 <g fill="none" stroke="#fff" stroke-width="1.3" stroke-linecap="round" stroke-linejoin="round">
  <path d="M14,21.7 A6,6 0 1 1 20,27.7 L14.2,27.9 Z"/>
  <path d="M16.2,23.8 L18.2,19.4 L19.6,23.4 L21.6,19.7 L23.2,23.4 Q24.4,24.6 25.9,22.2"/>
  <path d="M77.3,20.3 L80.8,23.7 L77.3,27.1"/>
 </g>
</svg>
<div class="t" style="left:560.4px;top:496.09px;font-size:11px;line-height:13px;font-weight:700;color:#fff;letter-spacing:0.1px;">Analyze</div>

<!-- handle -->
<div class="abs" style="left:611px;top:528px;width:18px;height:30px;background:#fff;border:1px solid #edf0f5;border-radius:9px"></div>
<div class="abs" style="left:617px;top:534px;width:1.3px;height:10px;background:#a6b0c3"></div>
<div class="abs" style="left:620px;top:534px;width:1.3px;height:10px;background:#a6b0c3"></div>
</body></html>
